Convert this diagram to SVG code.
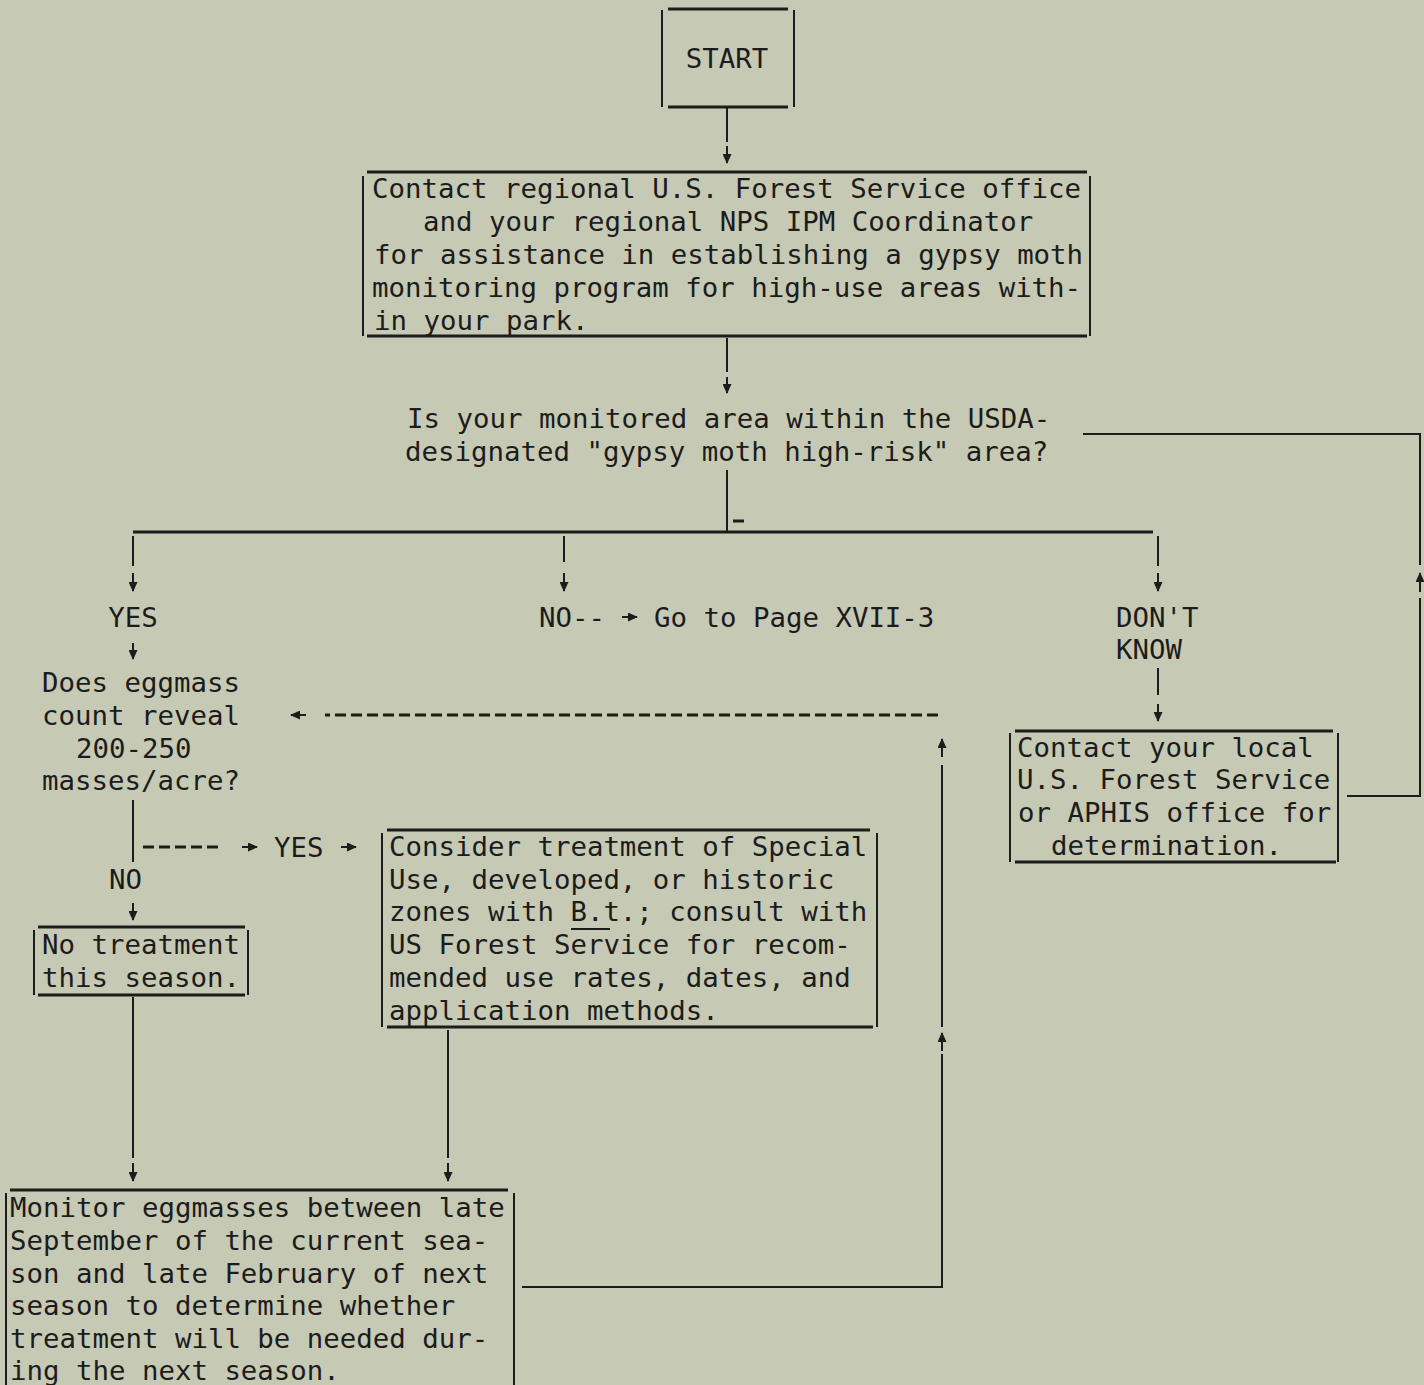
<svg xmlns="http://www.w3.org/2000/svg" width="1424" height="1385" viewBox="0 0 1424 1385">
<defs>
<style>
.t{font-family:"DejaVu Sans Mono","Liberation Mono",monospace;font-size:27.4px;fill:#1c1c1c}
.hb{stroke:#1c1c1c;stroke-width:3;fill:none}
.vb{stroke:#1c1c1c;stroke-width:2;fill:none}
.c{stroke:#1c1c1c;stroke-width:2;fill:none}
.a{stroke:#1c1c1c;stroke-width:2;fill:none;marker-end:url(#ah)}
.d{stroke:#1c1c1c;stroke-width:3;fill:none;stroke-dasharray:11 5}
</style>
<marker id="ah" markerUnits="userSpaceOnUse" markerWidth="10" markerHeight="9" refX="9" refY="4.5" orient="auto">
<path d="M0,0 L10,4.5 L0,9 z" fill="#1c1c1c"/>
</marker>
</defs>
<rect width="1424" height="1385" fill="#c6c9b4"/>

<g id="start">
<line class="hb" x1="668" y1="9" x2="788" y2="9"/>
<line class="hb" x1="668" y1="107" x2="788" y2="107"/>
<line class="vb" x1="662" y1="10" x2="662" y2="107"/>
<line class="vb" x1="794" y1="10" x2="794" y2="107"/>
<text class="t" x="727" y="68" text-anchor="middle">START</text>
</g>

<g id="contact-regional">
<line class="hb" x1="367" y1="172" x2="1087" y2="172"/>
<line class="hb" x1="367" y1="336" x2="1087" y2="336"/>
<line class="vb" x1="363" y1="176" x2="363" y2="336"/>
<line class="vb" x1="1090" y1="176" x2="1090" y2="336"/>
<text class="t" x="372" y="198">Contact regional U.S. Forest Service office</text>
<text class="t" x="423" y="231">and your regional NPS IPM Coordinator</text>
<text class="t" x="374" y="264">for assistance in establishing a gypsy moth</text>
<text class="t" x="372" y="297">monitoring program for high-use areas with-</text>
<text class="t" x="374" y="330">in your park.</text>
</g>

<g id="question">
<text class="t" x="407" y="428">Is your monitored area within the USDA-</text>
<text class="t" x="405" y="461">designated "gypsy moth high-risk" area?</text>
</g>

<g id="yes-label"><text class="t" x="133" y="627" text-anchor="middle">YES</text></g>
<g id="no-goto">
<text class="t" x="539" y="627">NO--</text>
<text class="t" x="654" y="627">Go to Page XVII-3</text>
</g>
<g id="dont-know">
<text class="t" x="1116" y="627">DON'T</text>
<text class="t" x="1116" y="659">KNOW</text>
</g>

<g id="eggmass-question">
<text class="t" x="42" y="692">Does eggmass</text>
<text class="t" x="42" y="725">count reveal</text>
<text class="t" x="76" y="758">200-250</text>
<text class="t" x="42" y="790">masses/acre?</text>
</g>

<g id="contact-local">
<line class="hb" x1="1015" y1="731" x2="1333" y2="731"/>
<line class="hb" x1="1015" y1="862" x2="1336" y2="862"/>
<line class="vb" x1="1010" y1="733" x2="1010" y2="862"/>
<line class="vb" x1="1338" y1="733" x2="1338" y2="862"/>
<text class="t" x="1017" y="757">Contact your local</text>
<text class="t" x="1017" y="789">U.S. Forest Service</text>
<text class="t" x="1018" y="822">or APHIS office for</text>
<text class="t" x="1051" y="855">determination.</text>
</g>

<g id="yes-no-labels">
<text class="t" x="274" y="857">YES</text>
<text class="t" x="109" y="889">NO</text>
</g>

<g id="no-treatment">
<line class="hb" x1="38" y1="927" x2="245" y2="927"/>
<line class="hb" x1="38" y1="995" x2="245" y2="995"/>
<line class="vb" x1="34" y1="930" x2="34" y2="995"/>
<line class="vb" x1="248" y1="930" x2="248" y2="995"/>
<text class="t" x="42" y="954">No treatment</text>
<text class="t" x="42" y="987">this season.</text>
</g>

<g id="consider">
<line class="hb" x1="387" y1="830" x2="870" y2="830"/>
<line class="hb" x1="387" y1="1027" x2="873" y2="1027"/>
<line class="vb" x1="382" y1="833" x2="382" y2="1027"/>
<line class="vb" x1="877" y1="833" x2="877" y2="1027"/>
<text class="t" x="389" y="856">Consider treatment of Special</text>
<text class="t" x="389" y="889">Use, developed, or historic</text>
<text class="t" x="389" y="921">zones with B.t.; consult with</text>
<line class="vb" x1="571" y1="929" x2="610" y2="929"/>
<text class="t" x="389" y="954">US Forest Service for recom-</text>
<text class="t" x="389" y="987">mended use rates, dates, and</text>
<text class="t" x="389" y="1020">application methods.</text>
</g>

<g id="monitor">
<line class="hb" x1="10" y1="1190" x2="508" y2="1190"/>
<line class="vb" x1="6" y1="1193" x2="6" y2="1385"/>
<line class="vb" x1="514" y1="1193" x2="514" y2="1385"/>
<text class="t" x="10" y="1217">Monitor eggmasses between late</text>
<text class="t" x="10" y="1250">September of the current sea-</text>
<text class="t" x="10" y="1283">son and late February of next</text>
<text class="t" x="10" y="1315">season to determine whether</text>
<text class="t" x="10" y="1348">treatment will be needed dur-</text>
<text class="t" x="10" y="1380">ing the next season.</text>
</g>

<g id="connectors">
<line class="c" x1="727" y1="107" x2="727" y2="142"/>
<line class="a" x1="727" y1="146" x2="727" y2="163"/>
<line class="c" x1="727" y1="338" x2="727" y2="372"/>
<line class="a" x1="727" y1="377" x2="727" y2="393"/>
<line class="c" x1="727" y1="470" x2="727" y2="532"/>
<line class="hb" x1="733" y1="521" x2="744" y2="521"/>
<line class="hb" x1="133" y1="532" x2="1153" y2="532"/>
<line class="c" x1="133" y1="536" x2="133" y2="566"/>
<line class="a" x1="133" y1="573" x2="133" y2="591"/>
<line class="c" x1="564" y1="536" x2="564" y2="562"/>
<line class="a" x1="564" y1="573" x2="564" y2="591"/>
<line class="c" x1="1158" y1="536" x2="1158" y2="566"/>
<line class="a" x1="1158" y1="573" x2="1158" y2="591"/>
<line class="a" x1="133" y1="643" x2="133" y2="659"/>
<line class="a" x1="622" y1="617" x2="637" y2="617"/>
<line class="c" x1="1158" y1="668" x2="1158" y2="695"/>
<line class="a" x1="1158" y1="704" x2="1158" y2="721"/>
<polyline class="c" points="1347,796 1420,796 1420,598"/>
<line class="a" x1="1420" y1="592" x2="1420" y2="573"/>
<polyline class="c" points="1420,565 1420,434 1083,434"/>
<line class="c" x1="133" y1="800" x2="133" y2="862"/>
<line class="d" x1="143" y1="847" x2="222" y2="847"/>
<line class="a" x1="242" y1="847" x2="257" y2="847"/>
<line class="a" x1="341" y1="847" x2="356" y2="847"/>
<line class="a" x1="133" y1="903" x2="133" y2="920"/>
<line class="c" x1="133" y1="997" x2="133" y2="1158"/>
<line class="a" x1="133" y1="1163" x2="133" y2="1181"/>
<line class="c" x1="448" y1="1030" x2="448" y2="1158"/>
<line class="a" x1="448" y1="1163" x2="448" y2="1181"/>
<polyline class="c" points="522,1287 942,1287 942,1054"/>
<line class="a" x1="942" y1="1051" x2="942" y2="1033"/>
<line class="c" x1="942" y1="1027" x2="942" y2="765"/>
<line class="a" x1="942" y1="757" x2="942" y2="739"/>
<line class="d" x1="938" y1="715" x2="325" y2="715"/>
<line class="a" x1="306" y1="715" x2="291" y2="715"/>
</g>
</svg>
